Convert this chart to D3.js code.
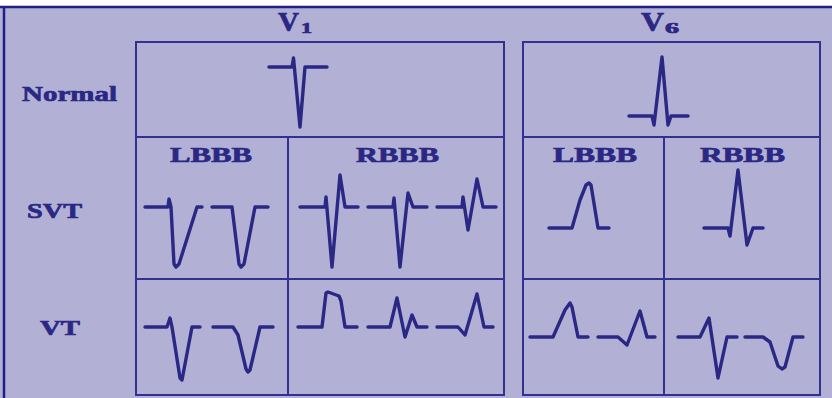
<!DOCTYPE html>
<html><head><meta charset="utf-8">
<script src="https://cdn.jsdelivr.net/npm/d3@7"></script>
<style>html,body{margin:0;padding:0;background:#fff}svg{display:block}</style>
</head><body>
<svg id="c" width="832" height="398"></svg>
<script>
// ---- labels ----
const rowLabels = ["Normal", "SVT", "VT"];
const leadNames = ["V", "V"];
const leadSubs = ["1", "6"];
const branchLabels = ["LBBB", "RBBB"];

// ---- waveforms: [time, amplitude] (amplitude positive = upward) ----
const normalV1 = [[0,0],[23,0],[24.5,9],[31,-60],[36,0],[58,0]];
const normalV6 = [[0,0],[23,0],[25,-9],[33,59],[39,-9],[42,0],[59,0]];

const svtLbbbV1a = [[0,0],[23,0],[24,8],[26,0],[29,-57],[31,-60],[34,-57],[52,0],[57,0]];
const svtLbbbV1b = [[0,0],[20,0],[27,-57],[29,-60],[32,-57],[43,0],[56,0]];
const svtRbbbV1a = [[0,0],[25,0],[26,10],[32,-60],[40,32],[45,0],[58,0]];
const svtRbbbV1b = [[0,0],[25,0],[26,9],[32,-60],[40,14],[45,0],[59,0]];
const svtRbbbV1c = [[0,0],[25,0],[26,10],[31,-23],[40,28],[46,0],[59,0]];
const svtLbbbV6 = [[0,0],[23,0],[31,28],[37,43],[40,45],[42,43],[49,0],[60,0]];
const svtRbbbV6 = [[0,0],[24,0],[26,-8],[34,58],[43,-17],[49,0],[59,0]];

const vtLbbbV1a = [[0,0],[22,0],[25,9],[27,0],[35,-51],[37,-53],[47,0],[55,0]];
const vtLbbbV1b = [[0,0],[20,0],[25,-8],[33,-42],[35,-45],[37,-43],[47,0],[60,0]];
const vtRbbbV1a = [[0,0],[24,0],[28,34],[30,35],[41,31],[43,26],[47,0],[59,0]];
const vtRbbbV1b = [[0,0],[22,0],[29,29],[37,-10],[44,12],[49,0],[59,0]];
const vtRbbbV1c = [[0,0],[21,0],[28,-8],[40,33],[47,0],[56,0]];
const vtLbbbV6a = [[0,0],[23,0],[35,27],[40,34],[42,30],[48,0],[58,0]];
const vtLbbbV6b = [[0,0],[20,0],[29,-8],[42,26],[49,0],[57,0]];
const vtRbbbV6a = [[0,0],[22,0],[31,19],[40,-41],[49,0],[59,0]];
const vtRbbbV6b = [[0,0],[18,0],[25,-5],[33,-29],[37,-32],[40,-30],[48,0],[58,0]];

// ---- layout (positions only) ----
const INK = "#2a2884", BG = "#b2b1d5";
const svg = d3.select("#c");
svg.append("rect").attr("x",0).attr("y",0).attr("width",832).attr("height",398).attr("fill","#fff");
svg.append("rect").attr("x",0).attr("y",6).attr("width",832).attr("height",392).attr("fill",BG);
svg.append("line").attr("x1",0).attr("x2",832).attr("y1",7).attr("y2",7).attr("stroke","#201e88").attr("stroke-width",2.5);
svg.append("line").attr("x1",4).attr("x2",4).attr("y1",7).attr("y2",398).attr("stroke","#201e88").attr("stroke-width",2.5);

const rowY = [42, 137, 279, 395];
const boxes = [
  {x0:136, x1:504, xm:288},
  {x0:523, x1:820, xm:664}
];
const gridG = svg.append("g").attr("stroke", "#333190").attr("stroke-width", 2).attr("fill","none");
boxes.forEach(b => {
  gridG.append("rect").attr("x", b.x0).attr("y", rowY[0]).attr("width", b.x1 - b.x0).attr("height", rowY[3] - rowY[0]);
  gridG.append("line").attr("x1", b.x0).attr("x2", b.x1).attr("y1", rowY[1]).attr("y2", rowY[1]);
  gridG.append("line").attr("x1", b.x0).attr("x2", b.x1).attr("y1", rowY[2]).attr("y2", rowY[2]);
  gridG.append("line").attr("x1", b.xm).attr("x2", b.xm).attr("y1", rowY[1]).attr("y2", rowY[3]);
});

const fontF = "'Liberation Serif','Times New Roman',serif";
function label(txt, x, y, w, size) {
  svg.append("text").attr("x", x).attr("y", y).text(txt)
    .attr("font-family", fontF).attr("font-weight", "bold").attr("font-size", size)
    .attr("fill", INK).attr("stroke", INK).attr("stroke-width", 0.7)
    .attr("textLength", w).attr("lengthAdjust", "spacingAndGlyphs");
}
// lead titles
const leadPos = [{x:278, w:21, sx:301, sw:11}, {x:641, w:23, sx:665, sw:14}];
leadNames.forEach((n, i) => {
  label(n, leadPos[i].x, 31, leadPos[i].w, 28);
  label(leadSubs[i], leadPos[i].sx, 33, leadPos[i].sw, 14);
});
// row labels
const rowLabPos = [{x:22, y:101, w:95}, {x:27, y:218, w:55}, {x:40, y:335, w:40}];
rowLabels.forEach((t, i) => label(t, rowLabPos[i].x, rowLabPos[i].y, rowLabPos[i].w, 22));
// branch labels
const branchPos = [[{x:170,w:82},{x:356,w:83}], [{x:553,w:84},{x:700,w:85}]];
branchPos.forEach(lead => lead.forEach((p, j) => label(branchLabels[j], p.x, 162, p.w, 22)));

// ---- complexes ----
const placements = [
  {d: normalV1, x: 269, y: 67},
  {d: normalV6, x: 629, y: 116},
  {d: svtLbbbV1a, x: 145, y: 207},
  {d: svtLbbbV1b, x: 212, y: 207},
  {d: svtRbbbV1a, x: 300, y: 207},
  {d: svtRbbbV1b, x: 368, y: 207},
  {d: svtRbbbV1c, x: 437, y: 207},
  {d: svtLbbbV6, x: 549, y: 228},
  {d: svtRbbbV6, x: 704, y: 228},
  {d: vtLbbbV1a, x: 145, y: 327},
  {d: vtLbbbV1b, x: 213, y: 327},
  {d: vtRbbbV1a, x: 298, y: 327},
  {d: vtRbbbV1b, x: 368, y: 327},
  {d: vtRbbbV1c, x: 437, y: 327},
  {d: vtLbbbV6a, x: 530, y: 337},
  {d: vtLbbbV6b, x: 598, y: 337},
  {d: vtRbbbV6a, x: 678, y: 337},
  {d: vtRbbbV6b, x: 745, y: 337}
];
placements.forEach(p => {
  const xs = d3.scaleLinear().domain([0, 60]).range([p.x, p.x + 60]);
  const ys = d3.scaleLinear().domain([0, 60]).range([p.y, p.y - 60]);
  const line = d3.line().x(d => xs(d[0])).y(d => ys(d[1])).curve(d3.curveLinear);
  svg.append("path").attr("d", line(p.d)).attr("fill", "none")
    .attr("stroke", INK).attr("stroke-width", 3.4)
    .attr("stroke-linejoin", "round").attr("stroke-linecap", "round");
});
</script>
</body></html>
